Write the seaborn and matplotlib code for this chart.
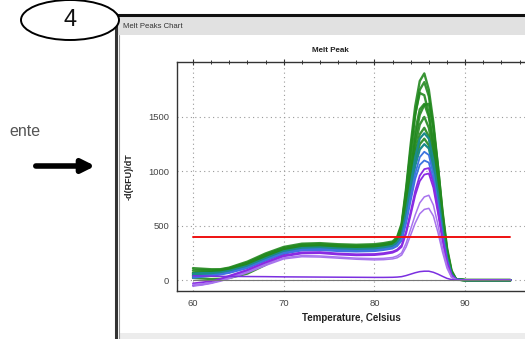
import matplotlib
matplotlib.use("Agg")
import matplotlib.pyplot as plt
import seaborn as sns
from matplotlib.patches import Ellipse, Rectangle
from matplotlib.ticker import MultipleLocator

sns.set_style("white")
plt.rcParams["font.family"] = ["Liberation Sans", "DejaVu Sans"]

# temperatures (Celsius) shared by every melt curve
temps = [60, 61, 62, 63, 64, 66, 68, 70, 72, 74, 76, 78, 80, 81, 82, 82.5, 83, 83.5,
         84, 84.5, 85, 85.5, 86, 86.5, 87, 87.5, 88, 88.5, 89, 90, 92, 95]

# -d(RFU)/dT, one list per well
green_wells = [
    [110, 105, 100, 100, 115, 170, 245, 305, 335, 340, 330, 325, 330, 340, 355, 395, 520, 850, 1250, 1600, 1830, 1900, 1750, 1450, 1050, 620, 280, 80, 8, 0, 0, 0],
    [90, 95, 90, 95, 110, 160, 235, 295, 325, 330, 320, 315, 320, 330, 345, 380, 490, 800, 1180, 1520, 1750, 1820, 1690, 1400, 1010, 600, 270, 75, 8, 0, 0, 0],
    [70, 80, 80, 85, 100, 150, 225, 285, 315, 320, 310, 305, 310, 320, 340, 380, 500, 820, 1200, 1530, 1720, 1700, 1530, 1250, 880, 500, 220, 60, 5, 0, 0, 0],
    [50, 65, 70, 75, 90, 140, 215, 278, 308, 312, 302, 298, 302, 312, 330, 360, 440, 680, 1000, 1300, 1520, 1610, 1620, 1400, 1050, 640, 300, 90, 10, 0, 0, 0],
    [30, 50, 60, 70, 85, 130, 205, 270, 300, 305, 295, 290, 295, 305, 320, 350, 430, 670, 960, 1240, 1430, 1500, 1400, 1170, 850, 510, 230, 60, 5, 0, 0, 0],
    [60, 70, 72, 78, 92, 138, 210, 272, 302, 308, 298, 292, 296, 306, 322, 352, 425, 640, 910, 1170, 1340, 1400, 1320, 1100, 800, 480, 215, 55, 5, 0, 0, 0],
    [40, 55, 58, 62, 75, 120, 190, 258, 290, 295, 285, 282, 286, 296, 312, 338, 405, 600, 850, 1090, 1250, 1300, 1240, 1040, 760, 450, 200, 50, 4, 0, 0, 0],
    [20, 15, 10, 12, 20, 60, 140, 240, 300, 315, 310, 305, 310, 320, 335, 365, 450, 720, 1060, 1370, 1570, 1620, 1500, 1240, 900, 530, 240, 65, 6, 0, 0, 0],
]
teal_wells = [
    [60, 65, 65, 70, 85, 130, 200, 265, 295, 300, 290, 285, 290, 300, 315, 345, 410, 620, 880, 1130, 1300, 1350, 1300, 1100, 800, 480, 210, 55, 5, 0, 0, 0],
    [45, 55, 55, 62, 78, 122, 192, 256, 286, 292, 282, 278, 282, 292, 306, 332, 390, 580, 820, 1050, 1200, 1250, 1210, 1020, 740, 440, 195, 50, 4, 0, 0, 0],
]
blue_wells = [
    [30, 40, 45, 55, 70, 115, 185, 250, 280, 285, 275, 270, 274, 284, 298, 322, 375, 550, 770, 980, 1130, 1180, 1150, 970, 710, 420, 185, 48, 4, 0, 0, 0],
    [20, 30, 38, 50, 66, 110, 178, 243, 272, 276, 266, 262, 266, 276, 290, 312, 362, 525, 730, 930, 1060, 1100, 1080, 920, 670, 400, 175, 45, 4, 0, 0, 0],
]
purple_wells = [
    [-30, -20, -10, 10, 40, 95, 165, 228, 255, 258, 245, 238, 240, 248, 262, 280, 320, 450, 630, 820, 960, 1020, 1030, 890, 650, 390, 170, 45, 4, 0, 0, 0],
    [-50, -40, -25, 0, 30, 85, 155, 218, 245, 248, 235, 228, 230, 238, 252, 270, 305, 430, 600, 780, 910, 970, 980, 850, 620, 370, 160, 40, 4, 0, 0, 0],
]
lilac_wells = [
    [-40, -35, -25, -5, 20, 75, 145, 205, 225, 222, 212, 202, 198, 200, 208, 222, 250, 340, 470, 600, 710, 765, 780, 690, 510, 300, 130, 30, 2, 0, 0, 0],
    [-55, -45, -30, -10, 15, 68, 135, 195, 215, 212, 202, 192, 186, 188, 195, 205, 230, 305, 415, 525, 610, 650, 660, 590, 440, 260, 110, 25, 2, 0, 0, 0],
]
low_well = [40, 38, 36, 35, 34, 33, 32, 30, 29, 28, 27, 26, 25, 25, 26, 28, 32, 42, 55, 68, 78, 82, 82, 72, 55, 35, 16, 5, 0, 0, 0, 0]
ntc_well = [4, 4, 4, 4, 4, 4, 4, 4, 4, 4, 4, 4, 4, 4, 4, 4, 4, 4, 4, 4, 4, 4, 4, 4, 4, 4, 4, 4, 4, 4, 4, 4]

threshold = 400
threshold_range = [60, 95]
y_ticks = [0, 500, 1000, 1500]

fig = plt.figure(figsize=(5.25, 3.39), dpi=100)

# background: window frame, bubble, arrow (pixel coordinates)
bg = fig.add_axes([0, 0, 1, 1], zorder=0)
bg.set_xlim(0, 525)
bg.set_ylim(339, 0)
bg.axis("off")
bg.add_patch(Rectangle((117, 15), 420, 330, facecolor="white", edgecolor="none"))
bg.add_patch(Rectangle((118, 16), 410, 19, facecolor="#e1e1e1", edgecolor="none"))
bg.plot([116, 525], [14.5, 14.5], color="#111111", lw=2.2)
bg.plot([115.5, 115.5], [14, 339], color="#333333", lw=2.2)
bg.plot([118.5, 118.5], [35, 339], color="#999999", lw=0.8)
bg.add_patch(Rectangle((119, 333), 410, 6, facecolor="#ececec", edgecolor="none"))
bg.text(123, 27, "Melt Peaks Chart", fontsize=5.6, color="#333333", va="center")
bg.add_patch(Ellipse((70, 20), 98, 40, facecolor="white", edgecolor="black", lw=1.4, zorder=5))
bg.text(70, 20, "4", fontsize=17, ha="center", va="center", color="#111111", zorder=6)
bg.text(41, 132, "ente", fontsize=11.5, ha="right", va="center", color="#555555")
bg.annotate("", xy=(98, 166), xytext=(33, 166),
            arrowprops=dict(arrowstyle="-|>", lw=4, color="black", mutation_scale=19))
bg.text(330, 50, "Melt Peak", fontsize=5.8, fontweight="bold", ha="center", va="center", color="#222222")

# melt peak chart
ax = fig.add_axes([177 / 525, 48 / 339, 348 / 525, 229 / 339], zorder=2)
ax.set_facecolor("white")

for vals in green_wells:
    sns.lineplot(x=temps, y=vals, color="#23891f", lw=1.7, ax=ax, alpha=0.9)
for vals in teal_wells:
    sns.lineplot(x=temps, y=vals, color="#1b8a8c", lw=1.6, ax=ax)
for vals in blue_wells:
    sns.lineplot(x=temps, y=vals, color="#3d74e0", lw=1.3, ax=ax)
for vals in purple_wells:
    sns.lineplot(x=temps, y=vals, color="#8a2be2", lw=1.3, ax=ax)
for vals in lilac_wells:
    sns.lineplot(x=temps, y=vals, color="#a874ee", lw=1.1, ax=ax)
sns.lineplot(x=temps, y=low_well, color="#7b2fe0", lw=1.1, ax=ax)
sns.lineplot(x=temps, y=ntc_well, color="#777777", lw=0.8, ax=ax)
sns.lineplot(x=threshold_range, y=[threshold, threshold], color="#ee1111", lw=1.4, ax=ax)

ax.set_xlim(58.24, 96.6)
ax.set_ylim(-100, 2005)
ax.xaxis.set_major_locator(MultipleLocator(10))
ax.xaxis.set_minor_locator(MultipleLocator(2))
ax.set_yticks(y_ticks)
ax.yaxis.set_minor_locator(MultipleLocator(100))
ax.grid(True, which="major", linestyle=(0, (1, 3)), color="#9a9a9a", lw=0.8)
ax.tick_params(which="major", direction="inout", length=5, width=0.8, colors="#333333",
               labelsize=6.8, labelcolor="#444444", top=True, pad=3)
ax.tick_params(which="minor", direction="inout", length=3, width=0.7, colors="#333333", top=True)
ax.tick_params(axis="x", which="both", top=True, labeltop=False)
for side in ["left", "bottom", "top"]:
    ax.spines[side].set_color("#333333")
    ax.spines[side].set_linewidth(1.0)
ax.spines["right"].set_visible(False)
ax.set_xlabel("Temperature, Celsius", fontsize=7, fontweight="bold", color="#222222", labelpad=4)
ax.set_ylabel("-d(RFU)/dT", fontsize=6.5, fontweight="bold", color="#222222")
ax.yaxis.set_label_coords(-0.126, 0.5)

fig.savefig("out.png", dpi=100)
